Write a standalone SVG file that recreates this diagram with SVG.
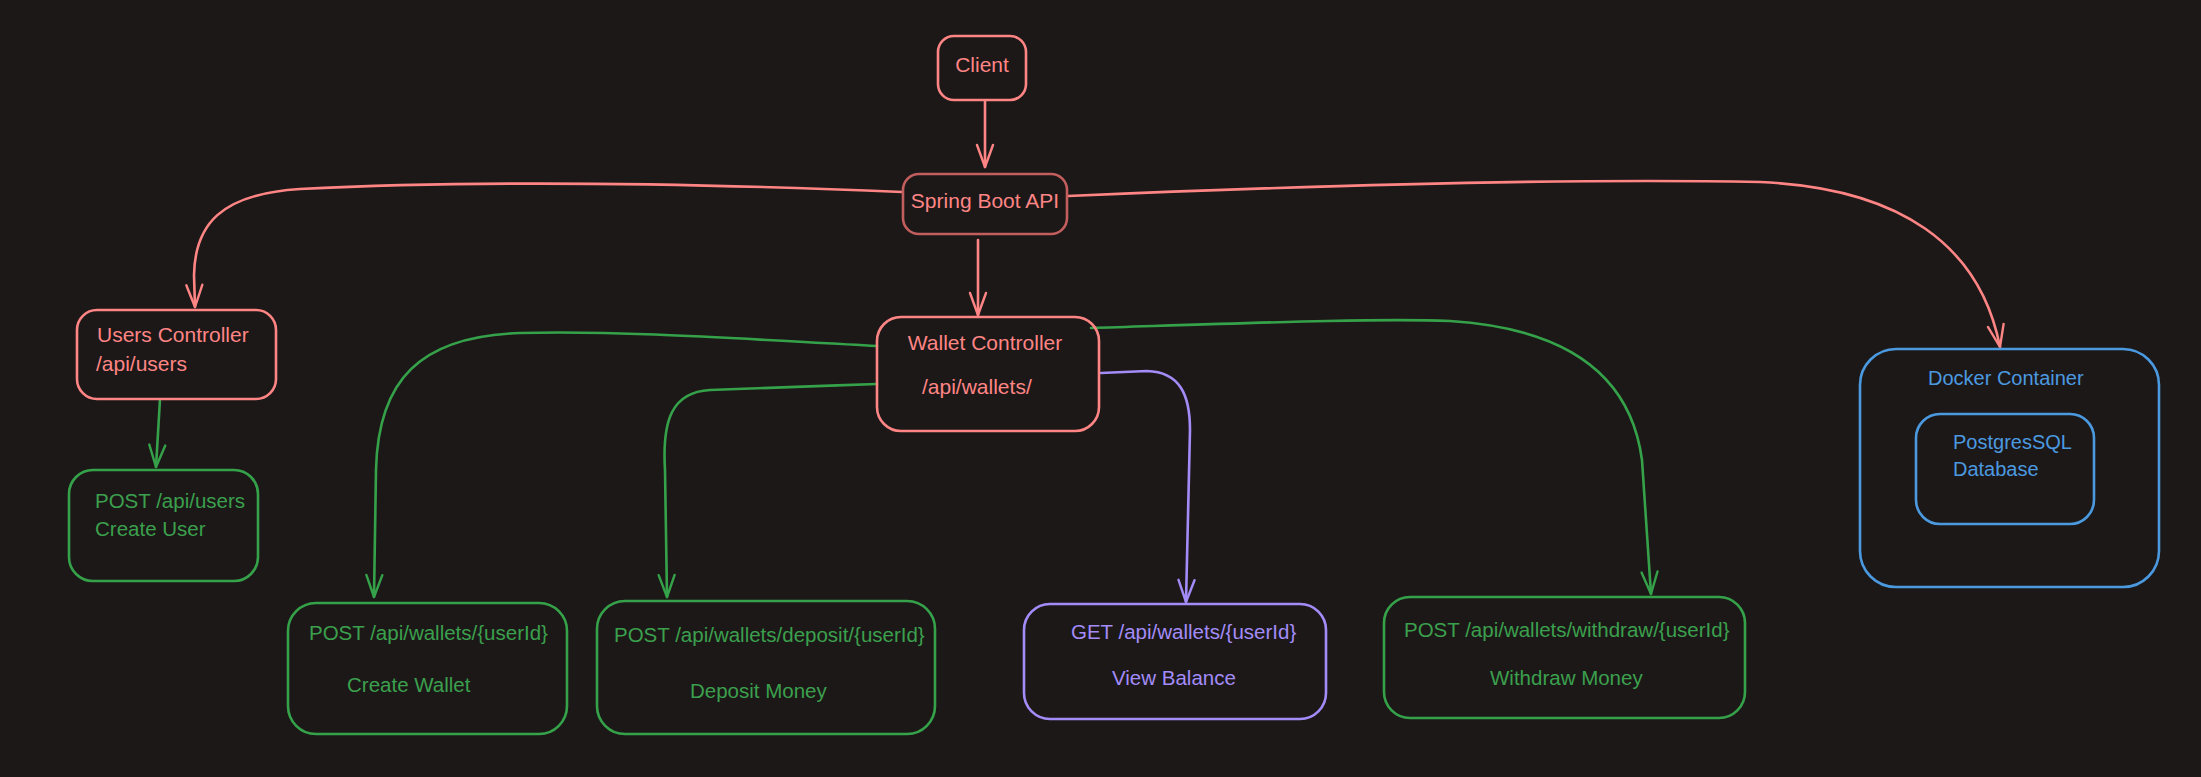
<svg xmlns="http://www.w3.org/2000/svg" width="2201" height="777" viewBox="0 0 2201 777">
  <style>
    .box { fill: none; stroke-width: 2.6; stroke-linejoin: round; }
    .red { stroke: #ff8585; }
    .redDark { stroke: #c25e5e; }
    .green { stroke: #35a24a; }
    .purple { stroke: #a38cf8; }
    .blue { stroke: #4b9ae0; }
    .t { font-family: "Liberation Sans", Arial, sans-serif; }
    .tr { fill: #ff8585; font-size: 21px; }
    .tg { fill: #3ba04d; font-size: 20.5px; }
    .tp { fill: #a38cf8; font-size: 20.5px; }
    .tb { fill: #4b9ae0; font-size: 20px; }
    .conn { fill: none; stroke-width: 2.6; stroke-linecap: round; stroke-linejoin: round; }
  </style>
  <defs>
    <marker id="arrRed" viewBox="-24 -11 27 22" refX="0" refY="0" markerUnits="userSpaceOnUse" markerWidth="27" markerHeight="22" orient="auto">
      <path d="M-22,-8 L0,0 L-22,8" fill="none" stroke="#ff8585" stroke-width="2.4" stroke-linecap="round" stroke-linejoin="round"/>
    </marker>
    <marker id="arrGreen" viewBox="-24 -11 27 22" refX="0" refY="0" markerUnits="userSpaceOnUse" markerWidth="27" markerHeight="22" orient="auto">
      <path d="M-22,-8 L0,0 L-22,8" fill="none" stroke="#35a24a" stroke-width="2.4" stroke-linecap="round" stroke-linejoin="round"/>
    </marker>
    <marker id="arrPurple" viewBox="-24 -11 27 22" refX="0" refY="0" markerUnits="userSpaceOnUse" markerWidth="27" markerHeight="22" orient="auto">
      <path d="M-22,-8 L0,0 L-22,8" fill="none" stroke="#a38cf8" stroke-width="2.4" stroke-linecap="round" stroke-linejoin="round"/>
    </marker>
  </defs>

  <rect x="0" y="0" width="2201" height="777" fill="#1c1818"/>

  <g id="connectors">
    <path class="conn red" d="M985,101 L985,167" marker-end="url(#arrRed)"/>
    <path class="conn red" d="M978,240 L978,315" marker-end="url(#arrRed)"/>
    <path class="conn red" d="M902,192 C760,186 520,178 300,189 C220,194 195,225 194,275 L195,307" marker-end="url(#arrRed)"/>
    <path class="conn red" d="M1068,196 C1300,186 1560,178 1760,182 C1900,188 1980,245 2000,347" marker-end="url(#arrRed)"/>
    <path class="conn green" d="M160,399 L156,467" marker-end="url(#arrGreen)"/>
    <path class="conn green" d="M877,346 C760,340 620,330 520,333 C420,336 378,380 376,470 L374,597" marker-end="url(#arrGreen)"/>
    <path class="conn green" d="M877,384 C820,386 760,388 710,390 C672,392 662,420 665,470 L667,597" marker-end="url(#arrGreen)"/>
    <path class="conn purple" d="M1101,373 L1147,371 C1180,372 1190,395 1190,430 L1186,602" marker-end="url(#arrPurple)"/>
    <path class="conn green" d="M1091,328 C1250,323 1380,318 1450,321 C1560,328 1630,370 1642,460 L1651,594" marker-end="url(#arrGreen)"/>
  </g>

  <g id="client">
    <rect class="box red" x="938" y="36" width="88" height="64" rx="16"/>
    <text class="t tr" x="982" y="72" text-anchor="middle">Client</text>
  </g>

  <g id="spring-boot-api">
    <rect class="box redDark" x="903" y="174" width="164" height="60" rx="16"/>
    <text class="t tr" x="985" y="208" text-anchor="middle">Spring Boot API</text>
  </g>

  <g id="users-controller">
    <rect class="box red" x="77" y="310" width="199" height="89" rx="20"/>
    <text class="t tr" x="97" y="342">Users Controller</text>
    <text class="t tr" x="96" y="371">/api/users</text>
  </g>

  <g id="wallet-controller">
    <rect class="box red" x="877" y="317" width="222" height="114" rx="24"/>
    <text class="t tr" x="985" y="350" text-anchor="middle">Wallet Controller</text>
    <text class="t tr" x="922" y="394">/api/wallets/</text>
  </g>

  <g id="create-user">
    <rect class="box green" x="69" y="470" width="189" height="111" rx="24"/>
    <text class="t tg" x="95" y="508">POST /api/users</text>
    <text class="t tg" x="95" y="536">Create User</text>
  </g>

  <g id="create-wallet">
    <rect class="box green" x="288" y="603" width="279" height="131" rx="28"/>
    <text class="t tg" x="309" y="640">POST /api/wallets/{userId}</text>
    <text class="t tg" x="347" y="692">Create Wallet</text>
  </g>

  <g id="deposit-money">
    <rect class="box green" x="597" y="601" width="338" height="133" rx="28"/>
    <text class="t tg" x="614" y="642">POST /api/wallets/deposit/{userId}</text>
    <text class="t tg" x="690" y="698">Deposit Money</text>
  </g>

  <g id="view-balance">
    <rect class="box purple" x="1024" y="604" width="302" height="115" rx="26"/>
    <text class="t tp" x="1071" y="639">GET /api/wallets/{userId}</text>
    <text class="t tp" x="1112" y="685">View Balance</text>
  </g>

  <g id="withdraw-money">
    <rect class="box green" x="1384" y="597" width="361" height="121" rx="26"/>
    <text class="t tg" x="1404" y="637">POST /api/wallets/withdraw/{userId}</text>
    <text class="t tg" x="1490" y="685">Withdraw Money</text>
  </g>

  <g id="docker-container">
    <rect class="box blue" x="1860" y="349" width="299" height="238" rx="36"/>
    <text class="t tb" x="1928" y="385">Docker Container</text>
  </g>

  <g id="postgres-database">
    <rect class="box blue" x="1916" y="414" width="178" height="110" rx="24"/>
    <text class="t tb" x="1953" y="449">PostgresSQL</text>
    <text class="t tb" x="1953" y="476">Database</text>
  </g>
</svg>
